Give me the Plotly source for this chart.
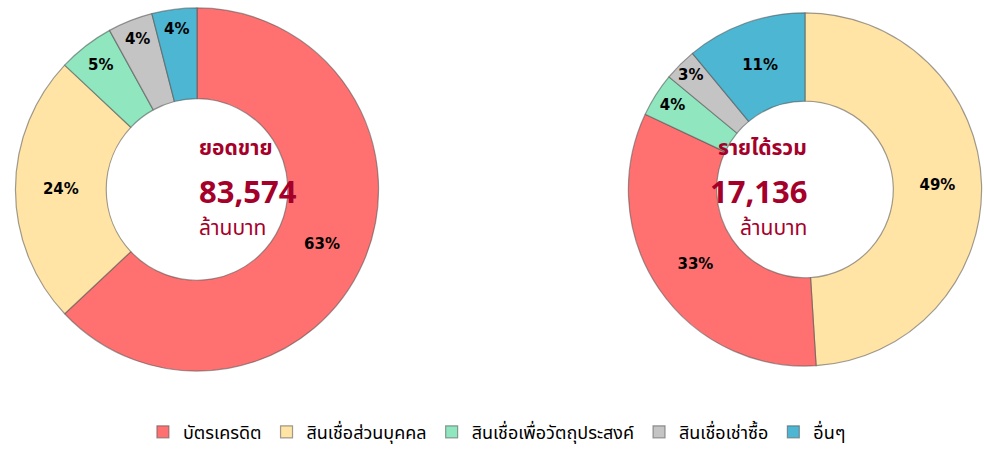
import plotly.graph_objects as go

W, H = 984, 451

categories = ["บัตรเครดิต", "สินเชื่อส่วนบุคคล", "สินเชื่อเพื่อวัตถุประสงค์", "สินเชื่อเช่าซื้อ", "อื่นๆ"]
colors = ["#FF7171", "#FFE4A6", "#8FE6BF", "#C4C4C4", "#4DB6D2"]

# Left chart: sales (order clockwise from 12 o'clock)
sales_order = ["บัตรเครดิต", "สินเชื่อส่วนบุคคล", "สินเชื่อเพื่อวัตถุประสงค์", "สินเชื่อเช่าซื้อ", "อื่นๆ"]
sales_pct = [63, 24, 5, 4, 4]
sales_title = "ยอดขาย"
sales_total = "83,574"

# Right chart: revenue
rev_order = ["สินเชื่อส่วนบุคคล", "บัตรเครดิต", "สินเชื่อเพื่อวัตถุประสงค์", "สินเชื่อเช่าซื้อ", "อื่นๆ"]
rev_pct = [49, 33, 4, 3, 11]
rev_title = "รายได้รวม"
rev_total = "17,136"

unit = "ล้านบาท"

cmap = dict(zip(categories, colors))
thai_font = "Tahoma, 'Noto Sans Thai', 'Leelawadee UI', 'DejaVu Sans', sans-serif"
label_font = dict(family="DejaVu Sans, Verdana, sans-serif", size=15, color="black", weight="bold")


def px_dom(cx, cy, r):
    return dict(x=[(cx - r) / W, (cx + r) / W], y=[1 - (cy + r) / H, 1 - (cy - r) / H])


edge = dict(color="rgba(80,80,80,0.55)", width=1.2)

fig = go.Figure()
fig.add_trace(go.Pie(
    labels=sales_order, values=sales_pct,
    text=[f"{v}%" for v in sales_pct], textinfo="text",
    textposition="inside", insidetextorientation="horizontal",
    textfont=label_font,
    marker=dict(colors=[cmap[c] for c in sales_order], line=edge),
    hole=0.5, sort=False, direction="clockwise", rotation=0,
    domain=px_dom(197, 192, 184), hoverinfo="skip", showlegend=True,
))
fig.add_trace(go.Pie(
    labels=rev_order, values=rev_pct,
    text=[f"{v}%" for v in rev_pct], textinfo="text",
    textposition="inside", insidetextorientation="horizontal",
    textfont=label_font,
    marker=dict(colors=[cmap[c] for c in rev_order], line=edge),
    hole=0.5, sort=False, direction="clockwise", rotation=0,
    domain=px_dom(805, 192, 179), hoverinfo="skip", showlegend=False,
))

dark_red = "#A5002A"
annots = []
for cx, title, total in [(197, sales_title, sales_total), (809, rev_title, rev_total)]:
    annots.append(dict(x=cx / W, y=1 - 151 / H, text=f"<b>{title}</b>", showarrow=False,
                       xref="paper", yref="paper", yanchor="middle",
                       font=dict(family=thai_font, size=21, color=dark_red)))
    annots.append(dict(x=cx / W, y=1 - 194 / H, text=f"<b>{total}</b>", showarrow=False,
                       xref="paper", yref="paper", yanchor="middle",
                       font=dict(family="'Open Sans', 'DejaVu Sans', sans-serif", size=31, color=dark_red)))
    annots.append(dict(x=cx / W, y=1 - 232 / H, text=unit, showarrow=False,
                       xref="paper", yref="paper", yanchor="middle",
                       font=dict(family=thai_font, size=21, color=dark_red)))

fig.update_layout(
    width=W, height=H,
    margin=dict(l=0, r=0, t=0, b=0),
    paper_bgcolor="white", plot_bgcolor="white",
    annotations=annots,
    uniformtext=dict(minsize=15, mode="show"),
    legend=dict(orientation="h", x=0.505, xanchor="center", y=1 - 438 / H, yanchor="middle",
                font=dict(family=thai_font, size=18, color="black"), traceorder="normal",
                itemwidth=30, itemclick=False, itemdoubleclick=False),
)

fig.write_html("out.html")
